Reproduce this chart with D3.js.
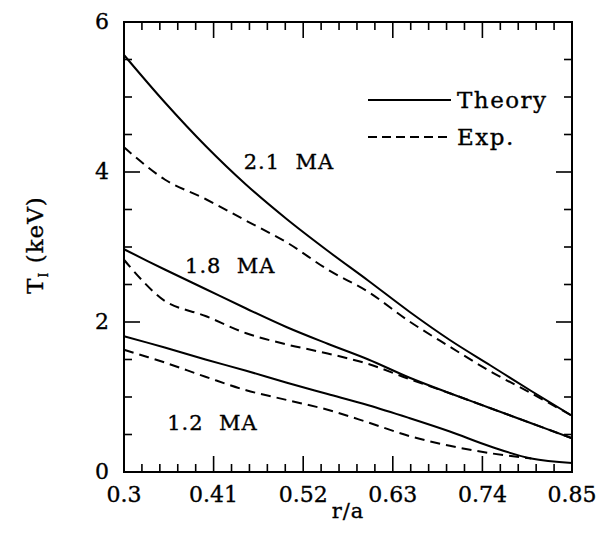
<!DOCTYPE html>
<html>
<head>
<meta charset="utf-8">
<script src="https://cdn.jsdelivr.net/npm/d3@7.9.0/dist/d3.min.js"></script>
<style>
  html, body { margin: 0; padding: 0; background: #fff; }
  svg text { font-family: "DejaVu Serif", serif; fill: #000; stroke: #000; stroke-width: 0.35; }
</style>
</head>
<body>
<div id="chart"></div>
<script>
// r/a sample points shared by every curve
const rGrid = [0.30, 0.35, 0.40, 0.45, 0.50, 0.55, 0.60, 0.65, 0.70, 0.75, 0.80, 0.85];

// T_i (keV), theory (solid) and experiment (dashed)
const theory21 = [5.56, 4.93, 4.35, 3.83, 3.37, 2.95, 2.55, 2.14, 1.76, 1.42, 1.08, 0.75];
const exp21    = [4.33, 3.90, 3.64, 3.35, 3.06, 2.70, 2.40, 2.01, 1.67, 1.34, 1.05, 0.75];
const theory18 = [2.97, 2.70, 2.44, 2.18, 1.93, 1.71, 1.50, 1.26, 1.05, 0.85, 0.65, 0.45];
const exp18    = [2.83, 2.28, 2.08, 1.85, 1.70, 1.58, 1.44, 1.24, 1.05, 0.85, 0.65, 0.45];
const theory12 = [1.81, 1.66, 1.50, 1.35, 1.19, 1.04, 0.89, 0.72, 0.54, 0.34, 0.18, 0.12];
const exp12    = [1.63, 1.46, 1.27, 1.09, 0.96, 0.83, 0.66, 0.48, 0.35, 0.25, 0.18, null];

const xTicks = [0.3, 0.41, 0.52, 0.63, 0.74, 0.85];
const yTicks = [0, 2, 4, 6];

const curveLabels = [
  { text: "2.1 MA", r: 0.447, t: 4.04 },
  { text: "1.8 MA", r: 0.375, t: 2.65 },
  { text: "1.2 MA", r: 0.353, t: 0.56 }
];

const series = [
  { values: theory21, dashed: false },
  { values: exp21, dashed: true },
  { values: theory18, dashed: false },
  { values: exp18, dashed: true },
  { values: theory12, dashed: false },
  { values: exp12, dashed: true }
];

const width = 613, height = 553;
const margin = { top: 22, right: 41, bottom: 81, left: 124 };

const svg = d3.select('#chart').append('svg')
  .attr('width', width)
  .attr('height', height);

const x = d3.scaleLinear().domain([0.3, 0.85]).range([margin.left, width - margin.right]);
const y = d3.scaleLinear().domain([0, 6]).range([height - margin.bottom, margin.top]);

const [x0, x1] = x.range();
const [y0, y1] = y.range();

// minor tick positions
const xMinor = d3.range(0, 26).map(i => 0.3 + i * 0.022);
const yMinor = d3.range(0, 13).map(i => i * 0.5);

const MAJOR = 16, MINOR = 8;
const ticks = svg.append('g').attr('stroke', '#000').attr('stroke-width', 1.6);

xMinor.forEach((v, i) => {
  const len = i % 5 === 0 ? MAJOR : MINOR;
  ticks.append('line').attr('x1', x(v)).attr('x2', x(v)).attr('y1', y0).attr('y2', y0 - len);
  ticks.append('line').attr('x1', x(v)).attr('x2', x(v)).attr('y1', y1).attr('y2', y1 + len);
});
yMinor.forEach((v, i) => {
  const len = i % 4 === 0 ? MAJOR : MINOR;
  ticks.append('line').attr('x1', x0).attr('x2', x0 + len).attr('y1', y(v)).attr('y2', y(v));
  ticks.append('line').attr('x1', x1).attr('x2', x1 - len).attr('y1', y(v)).attr('y2', y(v));
});

// frame
svg.append('rect')
  .attr('x', x0).attr('y', y1)
  .attr('width', x1 - x0).attr('height', y0 - y1)
  .attr('fill', 'none').attr('stroke', '#000').attr('stroke-width', 2);

// tick labels
svg.append('g').selectAll('text')
  .data(xTicks)
  .join('text')
    .attr('x', d => x(d))
    .attr('y', y0 + 30)
    .attr('text-anchor', 'middle')
    .attr('font-size', 22)
    .text(d => d);

svg.append('g').selectAll('text')
  .data(yTicks)
  .join('text')
    .attr('x', x0 - 15)
    .attr('y', d => y(d) + 7)
    .attr('text-anchor', 'end')
    .attr('font-size', 22)
    .text(d => d);

// axis titles
svg.append('text')
  .attr('x', (x0 + x1) / 2)
  .attr('y', y0 + 46)
  .attr('text-anchor', 'middle')
  .attr('font-size', 21)
  .attr('letter-spacing', 1)
  .text('r/a');

const yTitle = svg.append('text')
  .attr('transform', 'translate(43, 245) rotate(-90)')
  .attr('text-anchor', 'middle')
  .attr('font-size', 23)
  .attr('letter-spacing', 1);
yTitle.append('tspan').text('T');
yTitle.append('tspan').attr('font-size', 12).attr('dy', 5).text('I');
yTitle.append('tspan').attr('dy', -5).text('\u00a0(keV)');

// curves
const line = d3.line()
  .defined(d => d[1] != null)
  .x(d => x(d[0]))
  .y(d => y(d[1]))
  .curve(d3.curveCatmullRom.alpha(0.5));

svg.append('g').selectAll('path')
  .data(series)
  .join('path')
    .attr('d', s => line(rGrid.map((r, i) => [r, s.values[i]])))
    .attr('fill', 'none')
    .attr('stroke', '#000')
    .attr('stroke-width', 2)
    .attr('stroke-dasharray', s => s.dashed ? '10,6' : null);

// curve labels
svg.append('g').selectAll('text')
  .data(curveLabels)
  .join('text')
    .attr('x', d => x(d.r))
    .attr('y', d => y(d.t))
    .attr('font-size', 21)
    .attr('letter-spacing', 1)
    .text(d => d.text.replace(' ', '\u00a0\u00a0'));

// legend
const legend = svg.append('g');
[['Theory', null, 100], ['Exp.', '9,5', 137]].forEach(([label, dash, ly]) => {
  legend.append('line')
    .attr('x1', 368).attr('x2', 451)
    .attr('y1', ly).attr('y2', ly)
    .attr('stroke', '#000').attr('stroke-width', 2)
    .attr('stroke-dasharray', dash);
  legend.append('text')
    .attr('x', 457).attr('y', ly + 8)
    .attr('font-size', 23)
    .attr('letter-spacing', 1.5)
    .text(label);
});
</script>
</body>
</html>
